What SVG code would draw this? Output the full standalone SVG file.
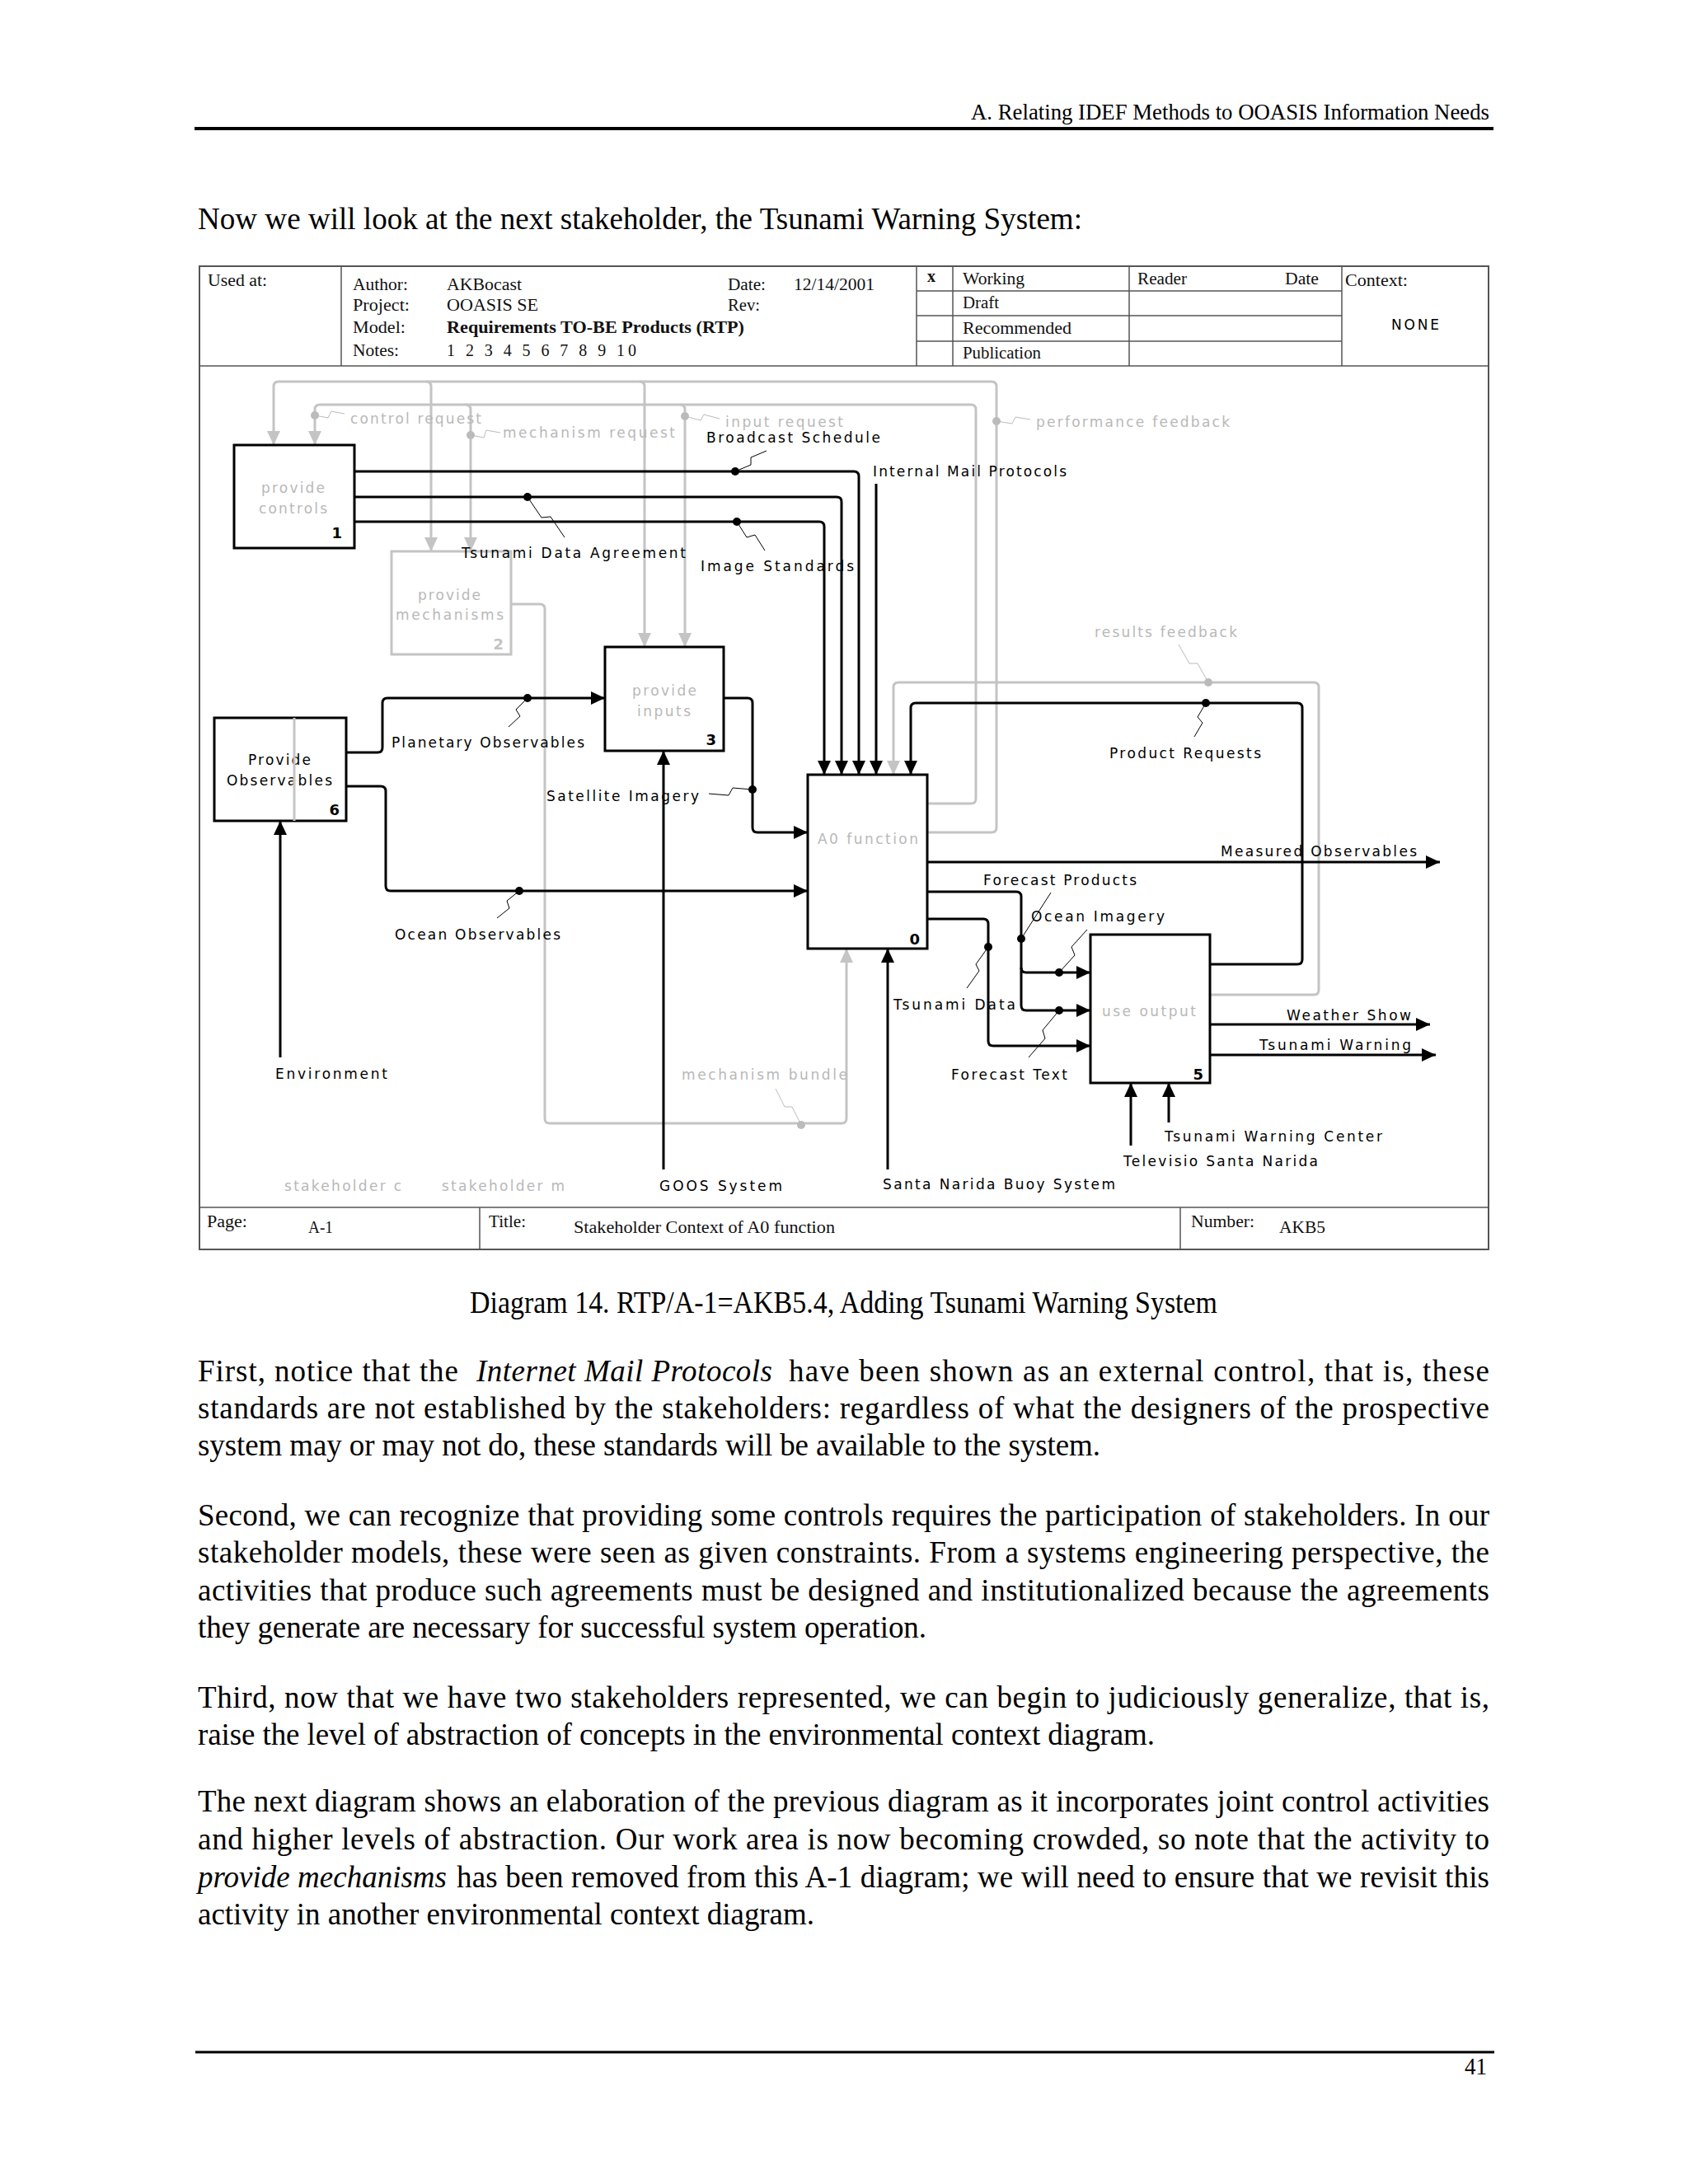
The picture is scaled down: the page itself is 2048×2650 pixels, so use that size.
<svg xmlns="http://www.w3.org/2000/svg" width="2048" height="2650" viewBox="0 0 2048 2650">
<style>
.pg{font-family:"Liberation Serif","Times New Roman",serif;font-size:37px;fill:#000}
.tb{font-family:"Liberation Serif","Times New Roman",serif;font-size:20px;fill:#111}
.lb{font-family:"DejaVu Sans",Verdana,sans-serif;font-size:17px;fill:#000}
.lg{font-family:"DejaVu Sans",Verdana,sans-serif;font-size:17px;fill:#b8b8b8}
.num{font-family:"DejaVu Sans",Verdana,sans-serif;font-size:18px;font-weight:bold;fill:#000}
.frm{fill:none;stroke:#555;stroke-width:2}
.tl{stroke:#555;stroke-width:1.5}
.bx{fill:#fff;stroke:#000;stroke-width:3}
.bxg{fill:#fff;stroke:#c4c4c4;stroke-width:3}
.cb{fill:none;stroke:#000;stroke-width:3}
.cg{fill:none;stroke:#c4c4c4;stroke-width:3}
.sq{fill:none;stroke:#000;stroke-width:1}
.sqg{fill:none;stroke:#bbb;stroke-width:1}
.dot{fill:#000}
.dotg{fill:#bbb}
</style>
<defs>
<marker id="ab" markerUnits="userSpaceOnUse" markerWidth="17" markerHeight="16" refX="17" refY="8" orient="auto"><path d="M0,0 L17,8 L0,16 z" fill="#000"/></marker>
<marker id="ag" markerUnits="userSpaceOnUse" markerWidth="17" markerHeight="16" refX="17" refY="8" orient="auto"><path d="M0,0 L17,8 L0,16 z" fill="#c4c4c4"/></marker>
</defs>
<rect width="2048" height="2650" fill="#fff"/>

<!-- page header -->
<text class="pg" x="1178" y="145" style="font-size:27px" textLength="629" lengthAdjust="spacingAndGlyphs">A. Relating IDEF Methods to OOASIS Information Needs</text>
<line x1="236" y1="156" x2="1812" y2="156" stroke="#000" stroke-width="4"/>
<text class="pg" x="240" y="278" textLength="1073" lengthAdjust="spacingAndGlyphs">Now we will look at the next stakeholder, the Tsunami Warning System:</text>

<!-- frame -->
<g id="frame">
<rect class="frm" x="242" y="323" width="1564" height="1193"/>
<line class="tl" x1="242" y1="444" x2="1806" y2="444"/>
<line class="tl" x1="242" y1="1465" x2="1806" y2="1465"/>
<line class="tl" x1="414" y1="323" x2="414" y2="444"/>
<line class="tl" x1="1112" y1="323" x2="1112" y2="444"/>
<line class="tl" x1="1156" y1="323" x2="1156" y2="444"/>
<line class="tl" x1="1370" y1="323" x2="1370" y2="444"/>
<line class="tl" x1="1628" y1="323" x2="1628" y2="444"/>
<line class="tl" x1="1112" y1="353" x2="1628" y2="353"/>
<line class="tl" x1="1112" y1="383" x2="1628" y2="383"/>
<line class="tl" x1="1112" y1="414" x2="1628" y2="414"/>
<line class="tl" x1="582" y1="1465" x2="582" y2="1516"/>
<line class="tl" x1="1432" y1="1465" x2="1432" y2="1516"/>
<text class="tb" x="252" y="347" textLength="72" lengthAdjust="spacingAndGlyphs">Used at:</text>
<text class="tb" x="428" y="352" textLength="67" lengthAdjust="spacingAndGlyphs">Author:</text>
<text class="tb" x="542" y="352" textLength="91" lengthAdjust="spacingAndGlyphs">AKBocast</text>
<text class="tb" x="883" y="352" textLength="46" lengthAdjust="spacingAndGlyphs">Date:</text>
<text class="tb" x="963" y="352" textLength="98" lengthAdjust="spacingAndGlyphs">12/14/2001</text>
<text class="tb" x="428" y="377" textLength="69" lengthAdjust="spacingAndGlyphs">Project:</text>
<text class="tb" x="542" y="377" textLength="111" lengthAdjust="spacingAndGlyphs">OOASIS SE</text>
<text class="tb" x="883" y="377" textLength="39" lengthAdjust="spacingAndGlyphs">Rev:</text>
<text class="tb" x="428" y="404" textLength="64" lengthAdjust="spacingAndGlyphs">Model:</text>
<text class="tb" x="542" y="404" font-weight="bold" textLength="361" lengthAdjust="spacingAndGlyphs">Requirements TO-BE Products (RTP)</text>
<text class="tb" x="428" y="432" textLength="56" lengthAdjust="spacingAndGlyphs">Notes:</text>
<text class="tb" x="542" y="432" textLength="230" lengthAdjust="spacing">1 2 3 4 5 6 7 8 9 10</text>
<text class="tb" x="1125" y="342" font-weight="bold">x</text>
<text class="tb" x="1168" y="345" textLength="75" lengthAdjust="spacingAndGlyphs">Working</text>
<text class="tb" x="1168" y="374" textLength="44" lengthAdjust="spacingAndGlyphs">Draft</text>
<text class="tb" x="1168" y="405" textLength="132" lengthAdjust="spacingAndGlyphs">Recommended</text>
<text class="tb" x="1168" y="435" textLength="95" lengthAdjust="spacingAndGlyphs">Publication</text>
<text class="tb" x="1380" y="345" textLength="60" lengthAdjust="spacingAndGlyphs">Reader</text>
<text class="tb" x="1559" y="345" textLength="41" lengthAdjust="spacingAndGlyphs">Date</text>
<text class="tb" x="1632" y="347" textLength="76" lengthAdjust="spacingAndGlyphs">Context:</text>
<text class="lb" x="1688" y="400" textLength="58" lengthAdjust="spacing">NONE</text>
<text class="tb" x="251" y="1489" textLength="49" lengthAdjust="spacingAndGlyphs">Page:</text>
<text class="tb" x="374" y="1496" textLength="30" lengthAdjust="spacingAndGlyphs">A-1</text>
<text class="tb" x="593" y="1489" textLength="45" lengthAdjust="spacingAndGlyphs">Title:</text>
<text class="tb" x="696" y="1496" textLength="317" lengthAdjust="spacingAndGlyphs">Stakeholder Context of A0 function</text>
<text class="tb" x="1445" y="1489" textLength="77" lengthAdjust="spacingAndGlyphs">Number:</text>
<text class="tb" x="1552" y="1496" textLength="56" lengthAdjust="spacingAndGlyphs">AKB5</text>
</g>

<!-- connectors -->
<g id="connectors">
<path class="cg" d="M1125,1010 H1203 Q1209,1010 1209,1004 V469 Q1209,463 1203,463 H338 Q332,463 332,469 V540" marker-end="url(#ag)"/>
<path class="cg" d="M517,463 Q523,463 523,469 V669" marker-end="url(#ag)"/>
<path class="cg" d="M776,463 Q782,463 782,469 V785" marker-end="url(#ag)"/>
<path class="cg" d="M1125,975 H1178 Q1184,975 1184,969 V497 Q1184,491 1178,491 H388 Q382,491 382,497 V540" marker-end="url(#ag)"/>
<path class="cg" d="M565,491 Q571,491 571,497 V669" marker-end="url(#ag)"/>
<path class="cg" d="M825,491 Q831,491 831,497 V785" marker-end="url(#ag)"/>
<path class="cg" d="M620,733 H655 Q661,733 661,739 V1357 Q661,1363 667,1363 H1021 Q1027,1363 1027,1357 V1151" marker-end="url(#ag)"/>
<path class="cg" d="M1468,1207 H1594 Q1600,1207 1600,1201 V834 Q1600,828 1594,828 H1090 Q1084,828 1084,834 V940" marker-end="url(#ag)"/>
<path class="cb" d="M430,572 H1036 Q1042,572 1042,578 V940" marker-end="url(#ab)"/>
<path class="cb" d="M430,603 H1015 Q1021,603 1021,609 V940" marker-end="url(#ab)"/>
<path class="cb" d="M430,633 H994 Q1000,633 1000,639 V940" marker-end="url(#ab)"/>
<path class="cb" d="M1063,587 V940" marker-end="url(#ab)"/>
<path class="cb" d="M1468,1170 H1574 Q1580,1170 1580,1164 V859 Q1580,853 1574,853 H1111 Q1105,853 1105,859 V940" marker-end="url(#ab)"/>
<path class="cb" d="M420,913 H458 Q464,913 464,907 V853 Q464,847 470,847 H734" marker-end="url(#ab)"/>
<path class="cb" d="M420,954 H462 Q468,954 468,960 V1075 Q468,1081 474,1081 H980" marker-end="url(#ab)"/>
<path class="cb" d="M878,847 H907 Q913,847 913,853 V1004 Q913,1010 919,1010 H980" marker-end="url(#ab)"/>
<path class="cb" d="M805,1419 V911" marker-end="url(#ab)"/>
<path class="cb" d="M1077,1419 V1151" marker-end="url(#ab)"/>
<path class="cb" d="M340,1283 V996" marker-end="url(#ab)"/>
<path class="cb" d="M1125,1046 H1747" marker-end="url(#ab)"/>
<path class="cb" d="M1125,1082 H1233 Q1239,1082 1239,1088 V1174 Q1239,1180 1245,1180 H1323" marker-end="url(#ab)"/>
<path class="cb" d="M1239,1174 V1220 Q1239,1226 1245,1226 H1323" marker-end="url(#ab)"/>
<path class="cb" d="M1125,1115 H1193 Q1199,1115 1199,1121 V1263 Q1199,1269 1205,1269 H1323" marker-end="url(#ab)"/>
<path class="cb" d="M1468,1243 H1735" marker-end="url(#ab)"/>
<path class="cb" d="M1468,1280 H1742" marker-end="url(#ab)"/>
<path class="cb" d="M1372,1390 V1314" marker-end="url(#ab)"/>
<path class="cb" d="M1418,1362 V1314" marker-end="url(#ab)"/>
<path class="sqg" d="M382,504 L398,507 L402,499 L418,502"/>
<path class="sqg" d="M571,528 L587,531 L590,522 L607,525"/>
<path class="sqg" d="M831,505 L850,510 L854,503 L873,508"/>
<path class="sqg" d="M1209,511 L1228,514 L1232,506 L1250,509"/>
<path class="sq" d="M892,572 L911,564 L911,555 L930,547"/>
<path class="sq" d="M640,603 L657,628 L668,627 L685,652"/>
<path class="sq" d="M894,633 L906,652 L916,649 L928,668"/>
<path class="sqg" d="M1466,828 L1453,805 L1443,805 L1430,782"/>
<path class="sq" d="M1463,853 L1453,870 L1459,877 L1449,894"/>
<path class="sq" d="M640,847 L626,861 L631,869 L617,882"/>
<path class="sq" d="M630,1081 L615,1093 L618,1102 L603,1114"/>
<path class="sq" d="M913,958 L889,956 L884,965 L860,963"/>
<path class="sqg" d="M972,1365 L961,1343 L952,1343 L941,1321"/>
<path class="sq" d="M1239,1139 L1275,1083"/>
<path class="sq" d="M1285,1180 L1304,1159 L1300,1149 L1319,1128"/>
<path class="sq" d="M1199,1149 L1184,1170 L1188,1178 L1173,1199"/>
<path class="sq" d="M1285,1226 L1265,1250 L1268,1260 L1248,1283"/>
<circle class="dotg" cx="382" cy="504" r="5"/>
<circle class="dotg" cx="571" cy="528" r="5"/>
<circle class="dotg" cx="831" cy="505" r="5"/>
<circle class="dotg" cx="1209" cy="511" r="5"/>
<circle class="dotg" cx="1466" cy="828" r="5"/>
<circle class="dotg" cx="972" cy="1365" r="5"/>
<circle class="dot" cx="892" cy="572" r="5"/>
<circle class="dot" cx="640" cy="603" r="5"/>
<circle class="dot" cx="894" cy="633" r="5"/>
<circle class="dot" cx="1463" cy="853" r="5"/>
<circle class="dot" cx="640" cy="847" r="5"/>
<circle class="dot" cx="630" cy="1081" r="5"/>
<circle class="dot" cx="913" cy="958" r="5"/>
<circle class="dot" cx="1239" cy="1139" r="5"/>
<circle class="dot" cx="1285" cy="1180" r="5"/>
<circle class="dot" cx="1199" cy="1149" r="5"/>
<circle class="dot" cx="1285" cy="1226" r="5"/>
</g>

<!-- nodes -->
<g id="node1">
<rect class="bx" x="284" y="540" width="146" height="125"/>
<text class="lg" x="317" y="598" textLength="77" lengthAdjust="spacing">provide</text>
<text class="lg" x="314" y="623" textLength="83" lengthAdjust="spacing">controls</text>
<text class="num" x="415" y="653" text-anchor="end">1</text>
</g>
<g id="node2">
<rect class="bxg" x="475" y="669" width="145" height="125"/>
<text class="lg" x="507" y="728" textLength="76" lengthAdjust="spacing">provide</text>
<text class="lg" x="480" y="752" textLength="131" lengthAdjust="spacing">mechanisms</text>
<text class="num" x="611" y="788" text-anchor="end" style="fill:#c4c4c4">2</text>
</g>
<g id="node3">
<rect class="bx" x="734" y="785" width="144" height="126"/>
<text class="lg" x="767" y="844" textLength="78" lengthAdjust="spacing">provide</text>
<text class="lg" x="773" y="869" textLength="65" lengthAdjust="spacing">inputs</text>
<text class="num" x="869" y="904" text-anchor="end">3</text>
</g>
<g id="node6">
<rect class="bx" x="260" y="871" width="160" height="125"/>
<text class="lb" x="301" y="928" textLength="76" lengthAdjust="spacing">Provide</text>
<text class="lb" x="275" y="953" textLength="128" lengthAdjust="spacing">Observables</text>
<text class="num" x="412" y="989" text-anchor="end">6</text>
</g>
<g id="node0">
<rect class="bx" x="980" y="940" width="145" height="211"/>
<text class="lg" x="992" y="1024" textLength="122" lengthAdjust="spacing">A0 function</text>
<text class="num" x="1116" y="1146" text-anchor="end">0</text>
</g>
<g id="node5">
<rect class="bx" x="1323" y="1134" width="145" height="180"/>
<text class="lg" x="1337" y="1233" textLength="114" lengthAdjust="spacing">use output</text>
<text class="num" x="1460" y="1310" text-anchor="end">5</text>
</g>
<line x1="357" y1="871" x2="357" y2="996" stroke="#c4c4c4" stroke-width="3"/>

<!-- connector labels -->
<g id="labels">
<text class="lg" x="425" y="514" textLength="159" lengthAdjust="spacing">control request</text>
<text class="lg" x="610" y="531" textLength="209" lengthAdjust="spacing">mechanism request</text>
<text class="lg" x="880" y="518" textLength="143" lengthAdjust="spacing">input request</text>
<text class="lg" x="1257" y="518" textLength="235" lengthAdjust="spacing">performance feedback</text>
<text class="lb" x="857" y="537" textLength="211" lengthAdjust="spacing">Broadcast Schedule</text>
<text class="lb" x="1059" y="578" textLength="235" lengthAdjust="spacing">Internal Mail Protocols</text>
<text class="lb" x="560" y="677" textLength="272" lengthAdjust="spacing">Tsunami Data Agreement</text>
<text class="lb" x="850" y="693" textLength="186" lengthAdjust="spacing">Image Standards</text>
<text class="lg" x="1328" y="773" textLength="173" lengthAdjust="spacing">results feedback</text>
<text class="lb" x="1346" y="920" textLength="184" lengthAdjust="spacing">Product Requests</text>
<text class="lb" x="475" y="907" textLength="234" lengthAdjust="spacing">Planetary Observables</text>
<text class="lb" x="663" y="972" textLength="185" lengthAdjust="spacing">Satellite Imagery</text>
<text class="lb" x="479" y="1140" textLength="201" lengthAdjust="spacing">Ocean Observables</text>
<text class="lb" x="1481" y="1039" textLength="238" lengthAdjust="spacing">Measured Observables</text>
<text class="lb" x="1193" y="1074" textLength="186" lengthAdjust="spacing">Forecast Products</text>
<text class="lb" x="1251" y="1118" textLength="162" lengthAdjust="spacing">Ocean Imagery</text>
<text class="lb" x="1084" y="1225" textLength="148" lengthAdjust="spacing">Tsunami Data</text>
<text class="lb" x="1154" y="1310" textLength="141" lengthAdjust="spacing">Forecast Text</text>
<text class="lb" x="1561" y="1238" textLength="151" lengthAdjust="spacing">Weather Show</text>
<text class="lb" x="1528" y="1274" textLength="184" lengthAdjust="spacing">Tsunami Warning</text>
<text class="lb" x="1413" y="1385" textLength="264" lengthAdjust="spacing">Tsunami Warning Center</text>
<text class="lb" x="1363" y="1415" textLength="236" lengthAdjust="spacing">Televisio Santa Narida</text>
<text class="lb" x="1071" y="1443" textLength="282" lengthAdjust="spacing">Santa Narida Buoy System</text>
<text class="lb" x="800" y="1445" textLength="149" lengthAdjust="spacing">GOOS System</text>
<text class="lg" x="345" y="1445" textLength="142" lengthAdjust="spacing">stakeholder c</text>
<text class="lg" x="536" y="1445" textLength="149" lengthAdjust="spacing">stakeholder m</text>
<text class="lb" x="334" y="1309" textLength="136" lengthAdjust="spacing">Environment</text>
<text class="lg" x="827" y="1310" textLength="201" lengthAdjust="spacing">mechanism bundle</text>
</g>

<!-- caption and body -->
<text class="pg" x="570" y="1593" textLength="907" lengthAdjust="spacingAndGlyphs">Diagram 14. RTP/A-1=AKB5.4, Adding Tsunami Warning System</text>

<text class="pg" x="240" y="1676" textLength="316" lengthAdjust="spacing">First, notice that the</text>
<text class="pg" x="578" y="1676" font-style="italic" textLength="359" lengthAdjust="spacing">Internet Mail Protocols</text>
<text class="pg" x="957" y="1676" textLength="850" lengthAdjust="spacing">have been shown as an external control, that is, these</text>
<text class="pg" x="240" y="1721" textLength="1567" lengthAdjust="spacing">standards are not established by the stakeholders: regardless of what the designers of the prospective</text>
<text class="pg" x="240" y="1766" textLength="1095" lengthAdjust="spacing">system may or may not do, these standards will be available to the system.</text>

<text class="pg" x="240" y="1851" textLength="1567" lengthAdjust="spacing">Second, we can recognize that providing some controls requires the participation of stakeholders. In our</text>
<text class="pg" x="240" y="1896" textLength="1567" lengthAdjust="spacing">stakeholder models, these were seen as given constraints. From a systems engineering perspective, the</text>
<text class="pg" x="240" y="1942" textLength="1567" lengthAdjust="spacing">activities that produce such agreements must be designed and institutionalized because the agreements</text>
<text class="pg" x="240" y="1987" textLength="884" lengthAdjust="spacing">they generate are necessary for successful system operation.</text>

<text class="pg" x="240" y="2072" textLength="1567" lengthAdjust="spacing">Third, now that we have two stakeholders represented, we can begin to judiciously generalize, that is,</text>
<text class="pg" x="240" y="2117" textLength="1161" lengthAdjust="spacing">raise the level of abstraction of concepts in the environmental context diagram.</text>

<text class="pg" x="240" y="2198" textLength="1567" lengthAdjust="spacing">The next diagram shows an elaboration of the previous diagram as it incorporates joint control activities</text>
<text class="pg" x="240" y="2244" textLength="1567" lengthAdjust="spacing">and higher levels of abstraction. Our work area is now becoming crowded, so note that the activity to</text>
<text class="pg" x="240" y="2290" font-style="italic" textLength="302" lengthAdjust="spacing">provide mechanisms</text>
<text class="pg" x="554" y="2290" textLength="1253" lengthAdjust="spacing">has been removed from this A-1 diagram; we will need to ensure that we revisit this</text>
<text class="pg" x="240" y="2335" textLength="748" lengthAdjust="spacing">activity in another environmental context diagram.</text>

<line x1="237" y1="2490" x2="1813" y2="2490" stroke="#000" stroke-width="3"/>
<text class="pg" x="1777" y="2517" style="font-size:29px" textLength="27" lengthAdjust="spacingAndGlyphs">41</text>
</svg>
